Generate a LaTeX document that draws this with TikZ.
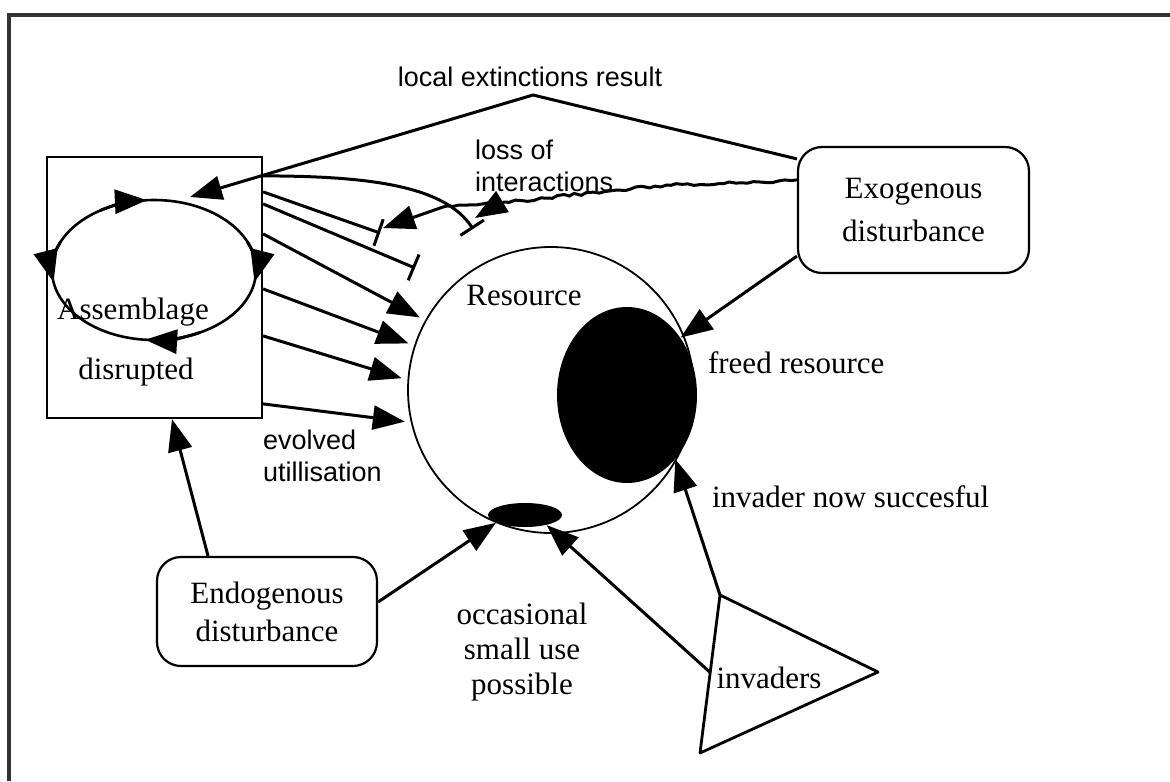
\documentclass[tikz,border=0pt]{standalone}
\usepackage{fontspec}
\setmainfont{Liberation Serif}
\setsansfont{Liberation Sans}
\usepackage{tikz}
\usetikzlibrary{arrows.meta, positioning, shapes.geometric, calc, decorations.pathmorphing}

\newcommand\serifbig{\fontsize{15.5}{17.5}\selectfont}
\newcommand\sanslabel{\sffamily\fontsize{13.5}{16}\selectfont}

\begin{document}
\begin{tikzpicture}[
  x=0.5pt, y=-0.5pt,
  >={Triangle[length=16pt, width=12pt]},
  link/.style={->, line width=1.5pt},
  blocked/.style={-{Bar[width=14pt, line width=1.5pt]}, line width=1.5pt},
  panel/.style={draw, line width=1.1pt, rounded corners=12pt, align=center},
  serif/.style={font=\serifbig},
  sans/.style={font=\sanslabel},
  jagged/.style={decoration={random steps, segment length=3pt, amplitude=0.7pt}},
]
\pgfmathsetseed{7}
\useasboundingbox (0,0) rectangle (1170,781);

% --- Frame ---
\draw[line width=1.6pt, black!80] (9,781) -- (9,15) -- (1170,15);

% --- Assemblage ---
\node[draw, line width=1.1pt, minimum width=107.5pt, minimum height=130.5pt] (assem) at (154.5,287.5) {};
\coordinate (loopc) at (154,270);
\draw[line width=1.3pt] (loopc) ellipse [x radius=51pt, y radius=35pt];
\foreach \a/\b in {122/94, 24/-10, 297/265, 156/190}
  \draw[link] ([shift={(\a:51pt and 35pt)}]loopc) arc[start angle=\a, end angle=\b, x radius=51pt, y radius=35pt];
\node[serif] (assemtxt) at (133,312) {Assemblage};
\node[serif] (disrtxt) at (136,372) {disrupted};

% --- Resource ---
\node[draw, circle, line width=0.9pt, minimum size=143pt, inner sep=0pt] (res) at (551,390) {};
\node[serif] (restxt) at (524,295) {Resource};
\node[ellipse, fill=black, minimum width=70pt, minimum height=88pt, inner sep=0pt] (freed) at (627,395) {};
\node[ellipse, fill=black, minimum width=37pt, minimum height=12pt, inner sep=0pt] (small) at (525,515) {};

% --- Disturbances ---
\node[panel, font=\fontsize{15.5}{21}\selectfont, minimum width=115.5pt, minimum height=63pt] (exo) at (913.5,210) {Exogenous\\disturbance};
\node[panel, font=\fontsize{15.5}{19}\selectfont, minimum width=110pt, minimum height=54.5pt] (endo) at (267,611.5) {Endogenous\\disturbance};

% --- Invaders ---
\coordinate (invtop) at (720,595);
\coordinate (invright) at (878,672);
\coordinate (invbot) at (700,753);
\draw[line width=1.4pt, line join=round] (invtop) -- (invright) -- (invbot) -- cycle;
\node[serif] (invtxt) at (769,678) {invaders};

% --- Labels ---
\node[sans] (loctxt) at (530,77) {local extinctions result};
\node[sans, anchor=west, align=left] (losstxt) at (468,166) {loss of\\interactions};
\node[sans, anchor=west, align=left] (evotxt) at (256,456) {evolved\\utillisation};
\node[serif, anchor=west] (freedtxt) at (701,363) {freed resource};
\node[serif, anchor=west] (succtxt) at (705,497) {invader now succesful};
\node[serif, align=center] (occtxt) at (522,652) {occasional\\small use\\possible};

% --- Local extinctions ---
\coordinate (apex) at (533,95);
\coordinate (loopin) at (190,197);
\draw[link] ([yshift=-6.5pt]exo.north west) -- (apex) -- (loopin);

% --- Loss of interactions ---
\coordinate (fork) at (500,203);
\coordinate (hit1) at (383,228);
\coordinate (hit2) at (475,218);
\coordinate (cut1) at (380,233);
\coordinate (cut2) at (473,229);
\coordinate (cut3) at (415,268);
\draw[link] decorate[jagged]{([yshift=-17pt]exo.north west) -- (760,182) -- (667,185) -- (617,190) -- (fork) -- (443,207)} -- (hit1);
\draw[link] (fork) -- (hit2);
\draw[blocked] ([yshift=-10pt]assem.north east) .. controls (370,176) and (445,186) .. (cut2);
\draw[blocked] ([yshift=-18pt]assem.north east) -- (cut1);
\draw[blocked] ([yshift=-24pt]assem.north east) -- (cut3);

% --- Evolved utilisation ---
\draw[link, shorten >=3pt] ([yshift=-39pt]assem.north east) -- (res.151);
\draw[link, shorten >=3pt] ([yshift=-66.5pt]assem.north east) -- (res.162);
\draw[link, shorten >=3pt] ([yshift=-90pt]assem.north east) -- (res.176);
\draw[link, shorten >=3pt] ([yshift=-124pt]assem.north east) -- (res.193);

% --- Disturbance effects ---
\draw[link] ([yshift=9pt]exo.south west) -- (freed.47);
\draw[link] ([xshift=-29.5pt]endo.north) -- ([xshift=8.75pt]assem.south);
\draw[link] ([yshift=4.75pt]endo.east) -- (small.195);

% --- Invasion ---
\draw[link] ($(invtop)!0.49!(invbot)$) -- (small.-25);
\draw[link] (invtop) -- (freed.-53);

\end{tikzpicture}
\end{document}
